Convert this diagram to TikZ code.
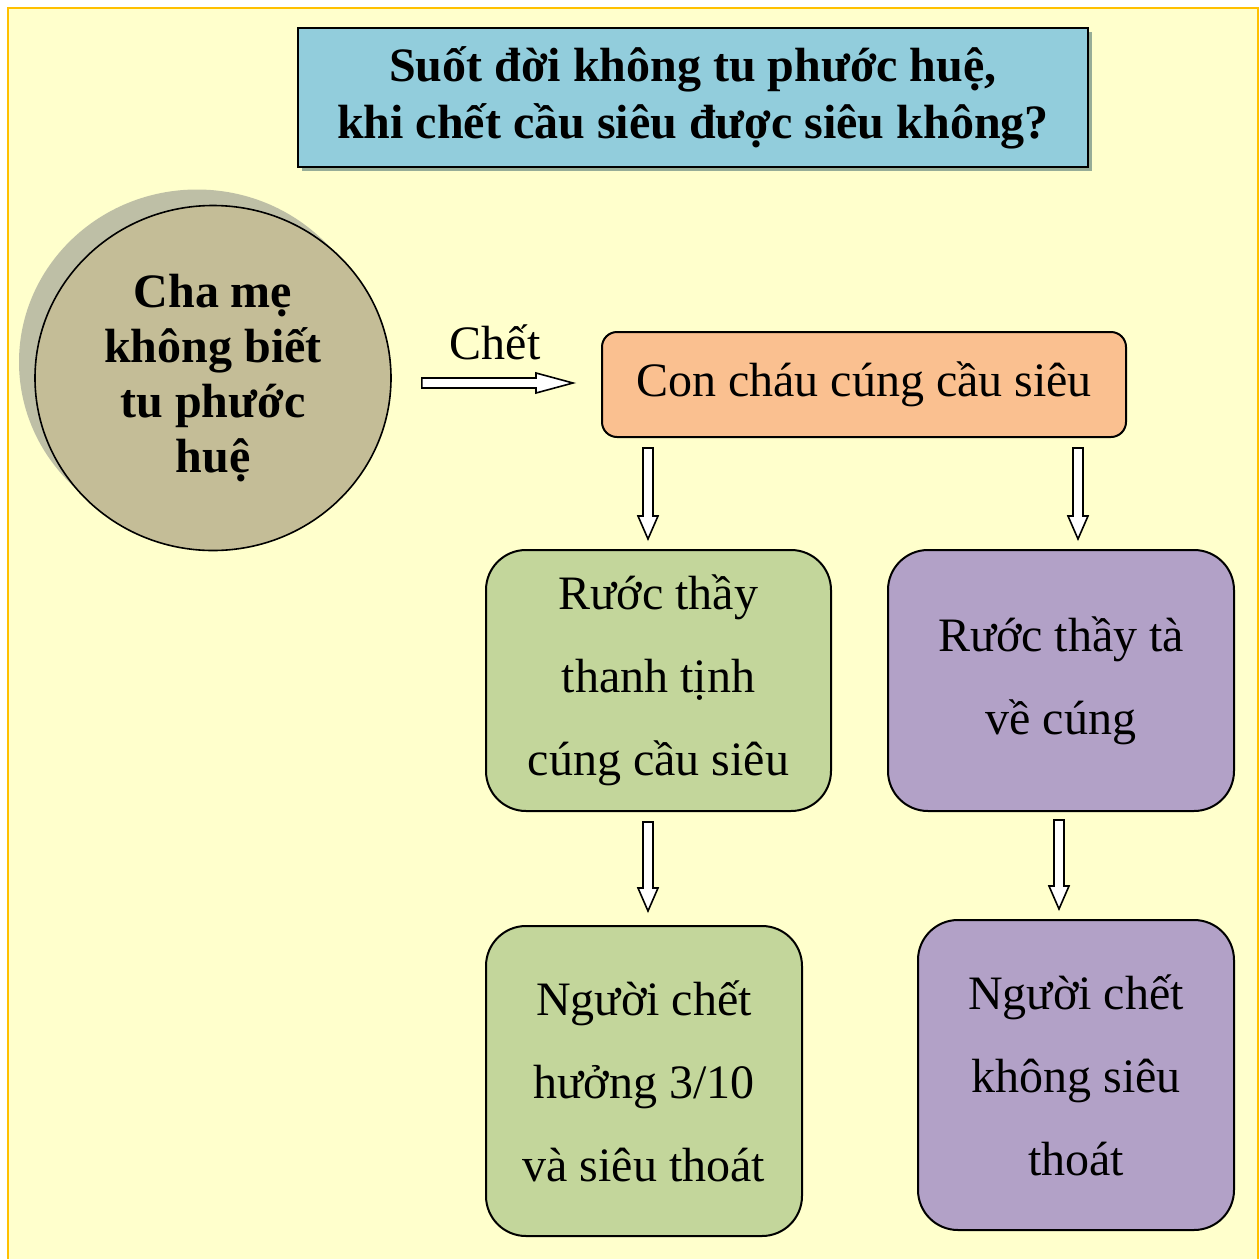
\documentclass[tikz,border=0pt]{standalone}
\usepackage{fontspec}
\setmainfont{Liberation Serif}
\usetikzlibrary{shapes.geometric, shadows, calc}
\definecolor{bgyellow}{HTML}{FFFFCC}
\definecolor{frameorange}{HTML}{FFC000}
\definecolor{titleblue}{HTML}{92CDDC}
\definecolor{titleshade}{HTML}{97AD97}
\definecolor{circlefill}{HTML}{C4BD97}
\definecolor{circleshade}{HTML}{BEBFA6}
\definecolor{orangefill}{HTML}{FAC090}
\definecolor{greenfill}{HTML}{C3D69B}
\definecolor{purplefill}{HTML}{B2A1C7}
\tikzset{
    base/.style = {
        draw=black, line width=1pt, text centered, align=center, inner sep=0pt,
        font=\fontsize{24pt}{41.5pt}\selectfont
    },
    % Boxes
    titlebox/.style  = {base, rectangle, fill=titleblue, line width=0.6pt,
        font=\bfseries\fontsize{24pt}{28.5pt}\selectfont,
        drop shadow={shadow xshift=1.8pt, shadow yshift=-1.8pt, fill=titleshade, opacity=1}},
    parents/.style   = {base, ellipse, fill=circlefill, line width=0.8pt,
        font=\bfseries\fontsize{24pt}{27.5pt}\selectfont,
        drop shadow={shadow xshift=-8pt, shadow yshift=8pt, fill=circleshade, opacity=1}},
    offering/.style  = {base, rectangle, rounded corners=7.5pt, fill=orangefill},
    goodmonk/.style  = {base, rectangle, rounded corners=20pt, fill=greenfill},
    badmonk/.style   = {base, rectangle, rounded corners=20pt, fill=purplefill},
    % Arrows and labels
    blockarr/.style  = {draw=black, line width=0.8pt, fill=white, line join=miter},
    annotation/.style = {font=\fontsize{24pt}{28pt}\selectfont}
}
% hollow block arrow from #2 to #3, head length #1
\newcommand{\blockarrow}[3][11.5pt]{%
    \coordinate (ba-h) at ($(#3)!#1!(#2)$);
    \draw[blockarr] ($(#2)!2.5pt!90:(#3)$) -- ($(ba-h)!2.5pt!90:(#3)$)
        -- ($(ba-h)!5pt!90:(#3)$) -- (#3) -- ($(ba-h)!5pt!-90:(#3)$)
        -- ($(ba-h)!2.5pt!-90:(#3)$) -- ($(#2)!2.5pt!-90:(#3)$) -- cycle;
}

\begin{document}
\begin{tikzpicture}[x=0.5pt, y=-0.5pt]

    \useasboundingbox (0,0) rectangle (1260,1259);

    % Slide background
    \fill[bgyellow] (8,8) rectangle (1258,1265);
    \draw[frameorange, line width=1.3pt] (8,1265) -- (8,8) -- (1258,8) -- (1258,1265);

    % Title
    \node (title) [titlebox, minimum width=395pt, minimum height=69.5pt] at (693,97.5)
        {Suốt đời không tu phước huệ,\\khi chết cầu siêu được siêu không?};

    % Parents
    \node (parents) [parents, minimum width=178pt, minimum height=172.5pt] at (213,378)
        {Cha mẹ\\không biết\\tu phước\\huệ};

    % Descendants' offering
    \node (offering) [offering, minimum width=262pt, minimum height=52.5pt] at (864,384.5)
        {Con cháu cúng cầu siêu};

    % Two kinds of monks
    \node (puremonk) [goodmonk, minimum width=172.5pt, minimum height=130.5pt] at (658.5,680.5)
        {Rước thầy\\thanh tịnh\\cúng cầu siêu};
    \node (falsemonk) [badmonk, minimum width=173pt, minimum height=130.5pt] at (1061,680.5)
        {Rước thầy tà\\về cúng};

    % Outcomes
    \node (freed) [goodmonk, minimum width=158pt, minimum height=155pt] at (644,1081)
        {Người chết\\hưởng 3/10\\và siêu thoát};
    \node (notfreed) [badmonk, minimum width=158pt, minimum height=155pt] at (1076,1075)
        {Người chết\\không siêu\\thoát};

    % --- Connections ---
    \node (death) [annotation] at (495,342) {Chết};

    \coordinate (p2o-s) at ($(parents.east)+(30,5)$);
    \coordinate (p2o-e) at ($(offering.west)+(-28,-1.5)$);
    \blockarrow[18.5pt]{p2o-s}{p2o-e}

    \coordinate (o2p-s) at ($(offering.south -| puremonk.north)+(-10.5,10)$);
    \coordinate (o2p-e) at ($(puremonk.north)+(-10.5,-10)$);
    \blockarrow{o2p-s}{o2p-e}

    \coordinate (o2f-s) at ($(offering.south -| falsemonk.north)+(17,10)$);
    \coordinate (o2f-e) at ($(falsemonk.north)+(17,-10)$);
    \blockarrow{o2f-s}{o2f-e}

    \coordinate (p2r-s) at ($(puremonk.south)+(-10.5,10)$);
    \coordinate (p2r-e) at ($(freed.north)+(4,-14)$);
    \blockarrow{p2r-s}{p2r-e}

    \coordinate (f2n-s) at ($(falsemonk.south)+(-2,8)$);
    \coordinate (f2n-e) at ($(notfreed.north)+(-17,-10)$);
    \blockarrow{f2n-s}{f2n-e}

\end{tikzpicture}
\end{document}
